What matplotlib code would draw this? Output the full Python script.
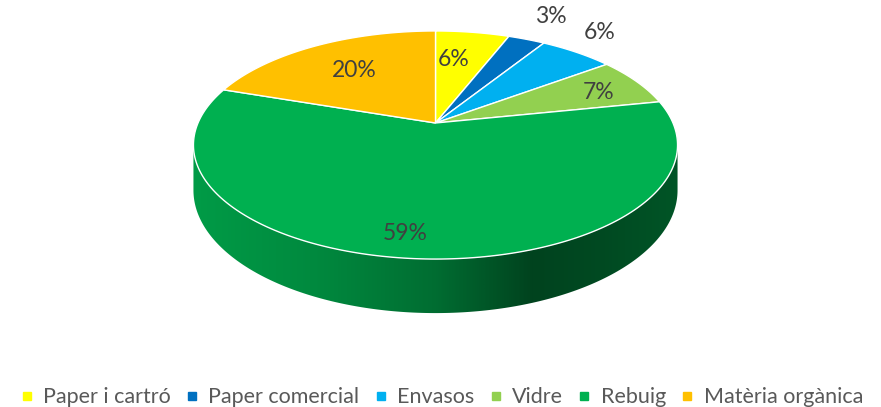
import numpy as np
import matplotlib
matplotlib.use("Agg")
import matplotlib.pyplot as plt
from matplotlib.patches import Polygon
from matplotlib.lines import Line2D
from matplotlib.colors import LinearSegmentedColormap, to_rgb

plt.rcParams['font.family'] = ['Lato', 'DejaVu Sans']

# data
categories = ["Paper i cartró", "Paper comercial", "Envasos", "Vidre", "Rebuig", "Matèria orgànica"]
values = [6, 3, 6, 7, 59, 20]
colors = ["#FFFF00", "#0070C0", "#00B0F0", "#92D050", "#00B050", "#FFC000"]

# layout of the tilted pie (figure pixels)
W, H = 881, 407
cx, cy = 435.5, 123.0
A, B, K = 237.5, 109.8, 0.193   # half width, half height, perspective
D = 43.6                         # thickness
label_r = [0.66, 1.33, 1.28, 0.78, 0.85, 0.65]
label_dt = [-3.2, 0, -2.8, 2.1, 3.7, 0]   # degrees


def proj(theta, r=1.0, drop=0.0):
    # theta in radians, clockwise from 12 o'clock
    x = r * np.sin(theta)
    y = r * np.cos(theta)
    w = 1 + K * y
    return cx + A * x / w, cy - B * y / w + drop / w


fig = plt.figure(figsize=(W / 100, H / 100), dpi=100)
ax = fig.add_axes([0, 0, 1, 1])
ax.set_xlim(0, W)
ax.set_ylim(H, 0)
ax.axis("off")

frac = np.array(values, dtype=float) / sum(values)
bounds = np.concatenate([[0], np.cumsum(frac)]) * 2 * np.pi

# side wall (visible front part only)
t_lo = np.arccos(-K)
t_hi = 2 * np.pi - t_lo
shade = LinearSegmentedColormap.from_list(
    "shade", [(0, (0.88,) * 3), (0.25, (0.78,) * 3), (0.5, (0.62,) * 3),
              (0.7, (0.38,) * 3), (0.85, (0.42,) * 3), (1.0, (0.48,) * 3)])
gx = np.linspace(0, 1, 400)
for i in range(len(values)):
    a0, a1 = max(bounds[i], t_lo), min(bounds[i + 1], t_hi)
    if a1 <= a0:
        continue
    ts = np.linspace(a0, a1, 200)
    tx, ty = proj(ts)
    bx, by = proj(ts[::-1], drop=D)
    poly = Polygon(np.column_stack([np.r_[tx, bx], np.r_[ty, by]]),
                   closed=True, facecolor="none", edgecolor="none")
    ax.add_patch(poly)
    base = np.array(to_rgb(colors[i]))
    f = shade(gx)[:, 0]
    img = np.clip(base[None, :] * f[:, None], 0, 1)[None, :, :]
    im = ax.imshow(img, extent=(cx - 242.5, cx + 242.5, 340, 100),
                   aspect="auto", interpolation="bilinear", zorder=1)
    im.set_clip_path(poly)

# top face slices
for i in range(len(values)):
    ts = np.linspace(bounds[i], bounds[i + 1], 200)
    px, py = proj(ts)
    pts = np.column_stack([np.r_[cx, px], np.r_[cy, py]])
    ax.add_patch(Polygon(pts, closed=True, facecolor=colors[i],
                         edgecolor="white", linewidth=1.0, zorder=2))

# labels
for i, v in enumerate(values):
    mid = (bounds[i] + bounds[i + 1]) / 2 + np.radians(label_dt[i])
    lx, ly = proj(mid, r=label_r[i])
    ax.text(lx, ly, f"{v}%", ha="center", va="center", fontsize=16.5,
            color="#404040", zorder=3)

# legend
handles = [Line2D([], [], marker="s", linestyle="none", markersize=6,
                  markerfacecolor=c, markeredgecolor=c) for c in colors]
fig.legend(handles, categories, loc="center", bbox_to_anchor=(0.5, 0.024),
           ncol=6, frameon=False, fontsize=15.5, labelcolor="#595959",
           handlelength=0.8, handletextpad=0.35, columnspacing=0.6)

fig.savefig("out.png", dpi=100)
